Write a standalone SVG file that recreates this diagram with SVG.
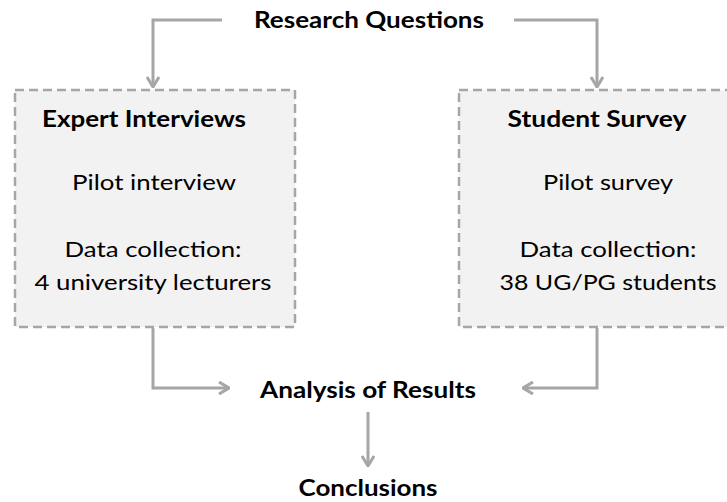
<svg xmlns="http://www.w3.org/2000/svg" width="727" height="502" viewBox="0 0 727 502">
<defs>
<style>
.box{fill:#F2F2F2;stroke:#A6A6A6;stroke-width:2.5;stroke-dasharray:9,5}
.t{font-family:Lato,"Open Sans","Liberation Sans",sans-serif;font-size:22px;fill:#000;text-anchor:middle}
.b{font-weight:bold}
.c{fill:none;stroke:#A6A6A6;stroke-width:3}
</style>
<marker id="ah" viewBox="0 0 12 14" refX="11" refY="7" markerWidth="12" markerHeight="14" markerUnits="userSpaceOnUse" orient="auto">
<path d="M1,1 L11,7 L1,13" fill="none" stroke="#A6A6A6" stroke-width="3"/>
</marker>
</defs>
<rect width="727" height="502" fill="#fff"/>
<g id="connectors">
<path class="c" d="M222,20 H153 V87" marker-end="url(#ah)"/>
<path class="c" d="M514,20 H597 V87" marker-end="url(#ah)"/>
<path class="c" d="M153,328 V388 H229" marker-end="url(#ah)"/>
<path class="c" d="M597,328 V388 H523" marker-end="url(#ah)"/>
<path class="c" d="M368,412 V466" marker-end="url(#ah)"/>
</g>
<g id="research-questions">
<text class="t b" x="369" y="28" textLength="230" lengthAdjust="spacingAndGlyphs">Research Questions</text>
</g>
<g id="expert-interviews">
<rect class="box" x="15" y="90" width="280" height="237"/>
<text class="t b" x="144" y="127" textLength="204" lengthAdjust="spacingAndGlyphs">Expert Interviews</text>
<text class="t" x="154" y="190" textLength="164" lengthAdjust="spacingAndGlyphs">Pilot interview</text>
<text class="t" x="153" y="257" textLength="177" lengthAdjust="spacingAndGlyphs">Data collection:</text>
<text class="t" x="153" y="290" textLength="237" lengthAdjust="spacingAndGlyphs">4 university lecturers</text>
</g>
<g id="student-survey">
<rect class="box" x="459" y="90" width="280" height="237"/>
<text class="t b" x="597" y="127" textLength="179" lengthAdjust="spacingAndGlyphs">Student Survey</text>
<text class="t" x="608" y="190" textLength="130" lengthAdjust="spacingAndGlyphs">Pilot survey</text>
<text class="t" x="608" y="257" textLength="177" lengthAdjust="spacingAndGlyphs">Data collection:</text>
<text class="t" x="608" y="290" textLength="217" lengthAdjust="spacingAndGlyphs">38 UG/PG students</text>
</g>
<g id="analysis">
<text class="t b" x="368" y="398" textLength="216" lengthAdjust="spacingAndGlyphs">Analysis of Results</text>
</g>
<g id="conclusions">
<text class="t b" x="368" y="496" textLength="139" lengthAdjust="spacingAndGlyphs">Conclusions</text>
</g>
</svg>
